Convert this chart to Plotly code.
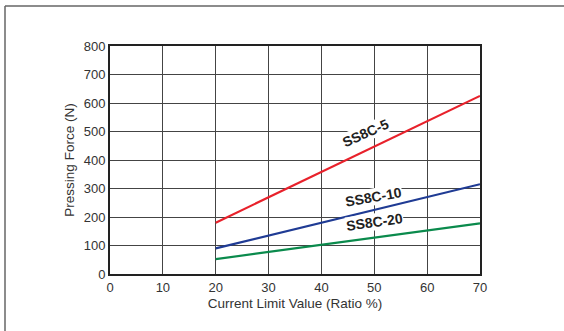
import plotly.graph_objects as go

x_vals = [20, 70]
ss8c5 = [180, 625]
ss8c10 = [90, 315]
ss8c20 = [52, 178]
series_names = ["SS8C-5", "SS8C-10", "SS8C-20"]
colors = ["#e8212b", "#1f3b94", "#0a8a4c"]

x_ticks = [0, 10, 20, 30, 40, 50, 60, 70]
y_ticks = [0, 100, 200, 300, 400, 500, 600, 700, 800]

fig = go.Figure()
for name, ys, c in zip(series_names, [ss8c5, ss8c10, ss8c20], colors):
    fig.add_trace(go.Scatter(x=x_vals, y=ys, mode="lines", name=name,
                             line=dict(color=c, width=2.2), showlegend=False))

labels = [("SS8C-5", 48.3, 495, -24), ("SS8C-10", 49.8, 270, -10), ("SS8C-20", 50.0, 183, -8)]
for t, ax_, ay_, ang in labels:
    fig.add_annotation(x=ax_, y=ay_, text="<b>" + t + "</b>", showarrow=False, textangle=ang,
                       font=dict(family="Liberation Sans, Arial", size=14, color="#222"),
                       bgcolor="white", borderpad=0)

W, H = 564, 331
ml, mr, mt, mb = 110, 84, 46, 57
pw, ph = W - ml - mr, H - mt - mb
def px(xp): return (xp - ml) / pw
def py(yp): return (H - mb - yp) / ph

fig.add_shape(type="line", xref="paper", yref="paper", x0=px(5), x1=px(564), y0=py(6), y1=py(6),
              line=dict(color="#666", width=1.5))
fig.add_shape(type="line", xref="paper", yref="paper", x0=px(5), x1=px(5), y0=py(6), y1=py(331),
              line=dict(color="#666", width=1.5))

fig.update_layout(
    width=W, height=H, margin=dict(l=ml, r=mr, t=mt, b=mb),
    paper_bgcolor="white", plot_bgcolor="white",
    font=dict(family="Liberation Sans, Arial", size=12, color="#333"),
)
fig.update_xaxes(range=[0, 70], tickvals=x_ticks, ticks="", showgrid=True, gridcolor="#444", gridwidth=1,
                 showline=True, linecolor="#222", linewidth=2, mirror=True, zeroline=False,
                 title=dict(text="Current Limit Value (Ratio %)", font=dict(size=13.5, color="#333"), standoff=5),
                 tickfont=dict(size=13, color="#333"))
fig.update_yaxes(range=[0, 800], tickvals=y_ticks, ticks="", showgrid=True, gridcolor="#444", gridwidth=1,
                 showline=True, linecolor="#222", linewidth=2, mirror=True, zeroline=False,
                 title=dict(text="Pressing Force (N)", font=dict(size=13.5, color="#333"), standoff=6),
                 tickfont=dict(size=13, color="#333"))

fig.write_html("out.html", config={"displayModeBar": False},
               post_script="document.body.style.margin='0';")
